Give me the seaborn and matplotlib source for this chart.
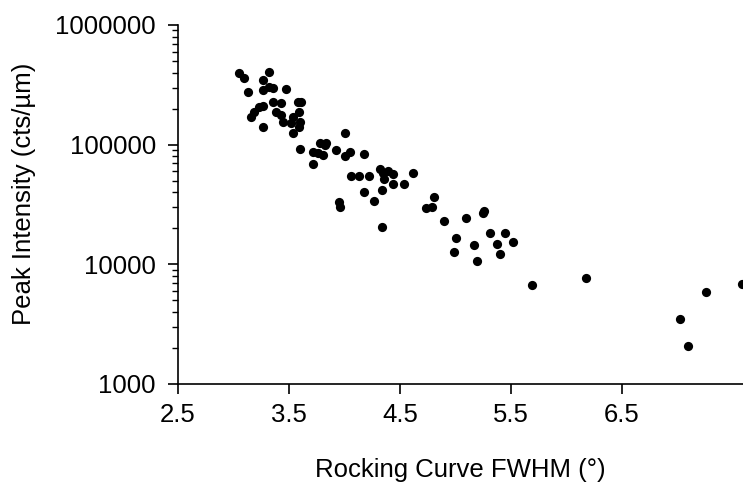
import numpy as np
import pandas as pd
import matplotlib
matplotlib.use("Agg")
from matplotlib import pyplot as plt
from matplotlib import ticker
import seaborn as sns

# Rocking curve FWHM (deg) vs peak intensity (cts/um)
fwhm = [3.05, 3.09, 3.32, 3.27, 3.13, 3.27, 3.32, 3.36, 3.47, 3.58,
        3.61, 3.36, 3.43, 3.27, 3.23, 3.18, 3.16, 3.38, 3.43, 3.45,
        3.54, 3.59, 3.60, 3.52, 3.59, 3.27, 3.54, 3.60, 4.00, 3.78,
        3.83, 3.82, 3.72, 3.76, 3.81, 3.92, 4.05, 4.00, 4.18, 3.72,
        4.06, 4.13, 4.22, 4.32, 4.35, 4.39, 4.44, 4.36, 4.62, 4.18,
        4.34, 4.44, 4.54, 4.27, 3.95, 3.96, 4.34, 4.81, 4.73, 4.79,
        4.90, 5.09, 5.26, 5.25, 5.00, 4.99, 5.17, 5.19, 5.31, 5.45,
        5.37, 5.40, 5.52, 5.69, 6.18, 7.26, 7.58, 7.02, 7.09]
intensity = [396000, 360000, 405000, 347000, 275000, 286000, 303000, 297000, 291000, 227000,
             227000, 227000, 223000, 210000, 206000, 187000, 170000, 187000, 177000, 155000,
             170000, 187000, 155000, 151000, 140000, 140000, 125000, 92000, 125000, 103000,
             103000, 99000, 86700, 85100, 81900, 90200, 86700, 80300, 83500, 68900,
             54700, 54700, 54700, 62500, 57900, 60200, 56800, 51600, 57900, 40200,
             41800, 46900, 46900, 33800, 33200, 30100, 20500, 36500, 29500, 30100,
             23000, 24400, 27900, 26800, 16600, 12700, 14500, 10700, 18200, 18200,
             14800, 12200, 15400, 6700, 7690, 5870, 6850, 3490, 2080]
x_ticks = [2.5, 3.5, 4.5, 5.5, 6.5]
y_ticks = [1000, 10000, 100000, 1000000]

df = pd.DataFrame({"fwhm": fwhm, "intensity": intensity})

sns.set_style("ticks")
plt.rcParams["font.family"] = ["Liberation Sans", "DejaVu Sans"]
plt.rcParams["axes.linewidth"] = 1.2
plt.rcParams["axes.edgecolor"] = "black"
plt.rcParams["axes.labelcolor"] = "black"
plt.rcParams["text.color"] = "black"

fig = plt.figure(figsize=(7.43, 4.87), dpi=100)
ax = fig.add_axes([0.2396, 0.2115, 0.7604, 0.7372])

sns.scatterplot(data=df, x="fwhm", y="intensity", ax=ax, color="black",
                s=44, edgecolor="black", linewidth=0, clip_on=False)

ax.set_yscale("log")
ax.set_ylim(1000, 1000000)
ax.set_xlim(2.5, 7.59)
ax.set_xticks(x_ticks)
ax.set_xticklabels([str(t) for t in x_ticks])
ax.set_yticks(y_ticks)
ax.set_yticklabels([str(t) for t in y_ticks])
ax.yaxis.set_minor_locator(ticker.LogLocator(base=10, subs=np.arange(2, 10)))
ax.yaxis.set_minor_formatter(ticker.NullFormatter())
ax.xaxis.set_minor_locator(ticker.NullLocator())

ax.tick_params(axis="both", which="major", direction="out", length=7, width=1.2,
               labelsize=18.5, colors="black")
ax.tick_params(axis="x", which="major", pad=7)
ax.tick_params(axis="y", which="major", pad=9)
ax.tick_params(axis="y", which="minor", direction="out", length=4, width=1, colors="black")

sns.despine(ax=ax, top=True, right=True)

ax.set_xlabel("Rocking Curve FWHM (°)", fontsize=18.5, labelpad=22)
ax.set_ylabel("Peak Intensity (cts/µm)", fontsize=18.5)
ax.yaxis.set_label_coords(-0.252, 0.53)

plt.savefig("out.png", dpi=100)
